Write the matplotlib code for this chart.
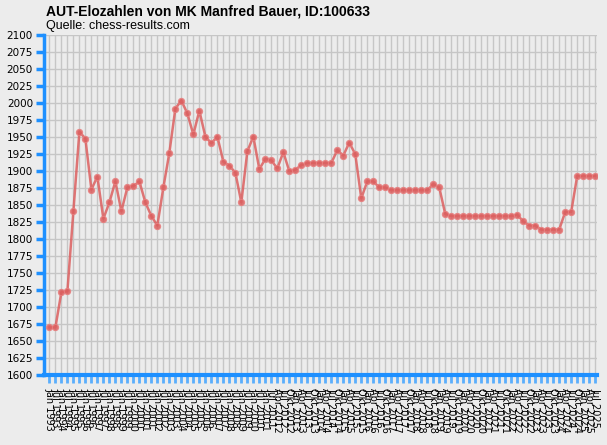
import matplotlib
matplotlib.use("Agg")
import matplotlib.pyplot as plt

# Rating list dates (semi-annual first, quarterly later)
dates = [
    "Jan 1993", "Jul 1993", "Jan 1994", "Jul 1994", "Jan 1995", "Jul 1995",
    "Jan 1996", "Jul 1996", "Jan 1997", "Jul 1997", "Jan 1998", "Jul 1998",
    "Jan 1999", "Jul 1999", "Jan 2000", "Jul 2000", "Jan 2001", "Jul 2001",
    "Jan 2002", "Jul 2002", "Jan 2003", "Jul 2003", "Jan 2004", "Jul 2004",
    "Jan 2005", "Jul 2005", "Jan 2006", "Jul 2006", "Jan 2007", "Jul 2007",
    "Jan 2008", "Jul 2008", "Jan 2009", "Jul 2009", "Jan 2010", "Jul 2010",
    "Jan 2011", "Jul 2011",
    "Apr 2012", "Jul 2012", "Okt 2012", "Jan 2013", "Apr 2013", "Jul 2013",
    "Okt 2013", "Jan 2014", "Apr 2014", "Jul 2014", "Okt 2014", "Jan 2015",
    "Apr 2015", "Jul 2015", "Okt 2015", "Jan 2016", "Apr 2016", "Jul 2016",
    "Okt 2016", "Jan 2017", "Apr 2017", "Jul 2017", "Okt 2017", "Jan 2018",
    "Apr 2018", "Jul 2018", "Okt 2018", "Jan 2019", "Apr 2019", "Jul 2019",
    "Okt 2019", "Jan 2020", "Apr 2020", "Jul 2020", "Okt 2020", "Jan 2021",
    "Apr 2021", "Jul 2021", "Okt 2021", "Jan 2022", "Apr 2022", "Jul 2022",
    "Okt 2022", "Jan 2023", "Apr 2023", "Jul 2023", "Okt 2023", "Jan 2024",
    "Apr 2024", "Jul 2024", "Okt 2024", "Jan 2025", "Apr 2025", "Jul 2025",
]

elo = [
    1670, 1670, 1722, 1723, 1841, 1958, 1948, 1873, 1892, 1830,
    1854, 1885, 1841, 1876, 1878, 1885, 1854, 1834, 1820, 1876,
    1927, 1992, 2004, 1985, 1954, 1989, 1951, 1941, 1951, 1914,
    1908, 1898, 1854, 1929, 1951, 1903, 1918, 1916, 1904, 1928,
    1900, 1902, 1909, 1912, 1912, 1912, 1912, 1912, 1931, 1923,
    1942, 1925, 1860, 1885, 1885, 1876, 1876, 1872, 1872, 1872,
    1872, 1872, 1872, 1872, 1881, 1876, 1837, 1834, 1834, 1834,
    1834, 1834, 1834, 1834, 1834, 1834, 1834, 1834, 1836, 1826,
    1820, 1820, 1814, 1814, 1814, 1814, 1840, 1840, 1893, 1893,
    1893, 1893,
]

bg = "#ececec"
blue = "#1e90ff"
red = "#dc5f5f"

fig = plt.figure(figsize=(6.07, 4.45), dpi=100, facecolor=bg)
ax = fig.add_axes([44 / 607, 70 / 445, 553 / 607, 339.7 / 445])
ax.set_facecolor(bg)

x = list(range(len(elo)))
ax.plot(x, elo, color=red, lw=1.8, marker="o", ms=4.5, mfc=red, mec="#e88080",
        mew=0.8, alpha=0.85, zorder=3)

ax.set_ylim(1600, 2100)
ax.set_xlim(-0.9, len(elo) - 1 + 0.3)
ax.set_yticks(range(1600, 2101, 25))
ax.set_xticks(x)
ax.set_xticklabels(dates, rotation=-90, fontsize=7, family="DejaVu Sans")
ax.tick_params(axis="y", labelsize=7.5, colors=blue, length=6, width=2.5,
               labelcolor="black", pad=2)
ax.tick_params(axis="x", colors="#5aaefc", length=6, width=2, labelcolor="black",
               pad=3)
for lab in ax.get_xticklabels():
    lab.set_va("top")
    lab.set_ha("center")

ax.grid(True, color="#c6c6c6", lw=1)
ax.set_axisbelow(True)
for side in ["top", "right"]:
    ax.spines[side].set_visible(False)
ax.spines["left"].set_color(blue)
ax.spines["left"].set_linewidth(2.5)
ax.spines["bottom"].set_color(blue)
ax.spines["bottom"].set_linewidth(3)

fig.text(46 / 607, 1 - 4 / 445, "AUT-Elozahlen von MK Manfred Bauer, ID:100633",
         fontsize=10, fontweight="bold", family="Liberation Sans", va="top")
fig.text(46 / 607, 1 - 20 / 445, "Quelle: chess-results.com",
         fontsize=9, family="Liberation Sans", va="top")

fig.savefig("out.png", dpi=100, facecolor=bg)
